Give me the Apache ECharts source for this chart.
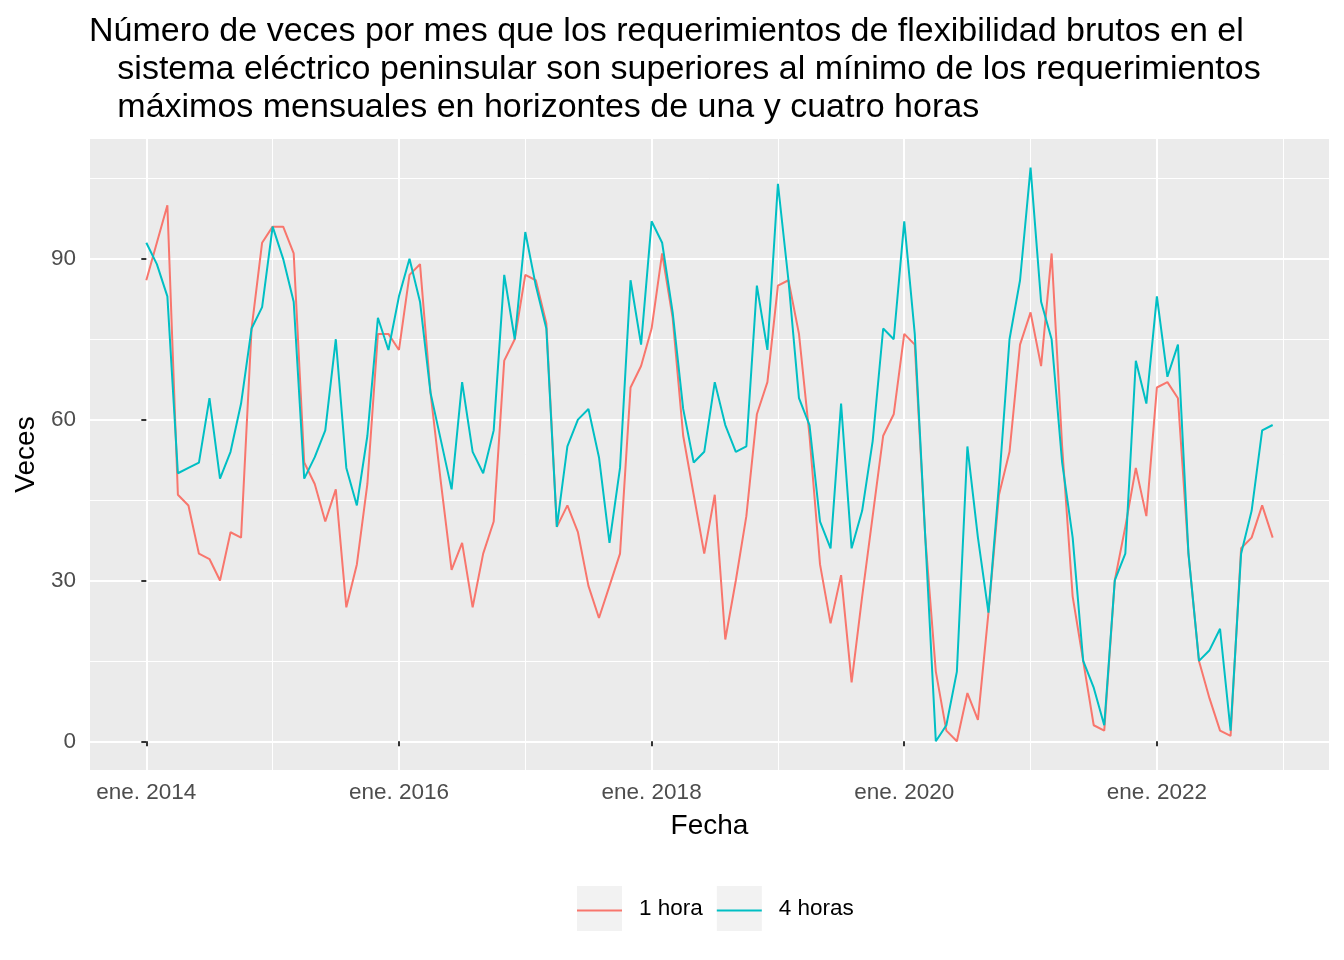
<!DOCTYPE html>
<html>
<head>
<meta charset="utf-8">
<script src="https://cdn.jsdelivr.net/npm/echarts@6/dist/echarts.min.js"></script>
<style>
  html, body { margin: 0; padding: 0; background: #fff; }
  #chart { width: 1344px; height: 960px; }
</style>
</head>
<body>
<div id="chart"></div>
<script>
// monthly, ene. 2014 .. dic. 2022
const startYear = 2014
const tickMonths = [0, 24, 48, 72, 96]
const tickLabels = ['ene. 2014', 'ene. 2016', 'ene. 2018', 'ene. 2020', 'ene. 2022']
const minorMonths = [12, 36, 60, 84, 108]
const yTicks = [0, 30, 60, 90]
const yMinor = [15, 45, 75, 105]

const unaHora = [
    86, 93, 100, 46, 44, 35, 34, 30, 39, 38, 77, 93,
    96, 96, 91, 52, 48, 41, 47, 25, 33, 48, 76, 76,
    73, 87, 89, 65, 48, 32, 37, 25, 35, 41, 71, 75,
    87, 86, 78, 40, 44, 39, 29, 23, 29, 35, 66, 70,
    77, 91, 79, 57, 46, 35, 46, 19, 30, 42, 61, 67,
    85, 86, 76, 57, 33, 22, 31, 11, 27, 42, 57, 61,
    76, 74, 38, 13, 2, 0, 9, 4, 24, 46, 54, 74,
    80, 70, 91, 55, 27, 15, 3, 2, 30, 40, 51, 42,
    66, 67, 64, 35, 15, 8, 2, 1, 36, 38, 44, 38
]
const cuatroHoras = [
    93, 89, 83, 50, 51, 52, 64, 49, 54, 63, 77, 81,
    96, 90, 82, 49, 53, 58, 75, 51, 44, 57, 79, 73,
    83, 90, 82, 65, 56, 47, 67, 54, 50, 58, 87, 75,
    95, 85, 77, 40, 55, 60, 62, 53, 37, 51, 86, 74,
    97, 93, 80, 62, 52, 54, 67, 59, 54, 55, 85, 73,
    104, 86, 64, 59, 41, 36, 63, 36, 43, 56, 77, 75,
    97, 76, 38, 0, 3, 13, 55, 38, 24, 48, 75, 86,
    107, 82, 75, 52, 38, 15, 10, 3, 30, 35, 71, 63,
    83, 68, 74, 35, 15, 17, 21, 2, 35, 43, 58, 59
]

const toPairs = arr => arr.map((v, i) => [i, v])

const white = (width) => ({ color: '#FFFFFF', width: width, type: 'solid' })
const gridLines = []
tickMonths.forEach(m => gridLines.push({ xAxis: m, lineStyle: white(2) }))
minorMonths.forEach(m => gridLines.push({ xAxis: m, lineStyle: white(1) }))
yTicks.forEach(v => gridLines.push({ yAxis: v, lineStyle: white(2) }))
yMinor.forEach(v => gridLines.push({ yAxis: v, lineStyle: white(1) }))

const font = 'Liberation Sans, Arial, sans-serif'
const chart = echarts.init(document.getElementById('chart'), null, { renderer: 'canvas' })

const legendBase = {
    left: 572,
    orient: 'horizontal',
    itemWidth: 45,
    itemGap: 14,
    icon: 'rect',
    selectedMode: false,
    data: ['1 hora', '4 horas'],
    textStyle: { fontFamily: font, fontSize: 22.5, padding: [0, 0, 0, 12] }
}

const option = {
    backgroundColor: '#FFFFFF',
    animation: false,
    title: {
        text: 'Número de veces por mes que los requerimientos de flexibilidad brutos en el\n   sistema eléctrico peninsular son superiores al mínimo de los requerimientos\n   máximos mensuales en horizontes de una y cuatro horas',
        left: 84,
        top: 8,
        textStyle: { fontFamily: font, fontSize: 34, fontWeight: 'normal', color: '#000', lineHeight: 38 }
    },
    legend: [
        Object.assign({}, legendBase, {
            top: 881,
            itemHeight: 45,
            itemStyle: { color: '#F2F2F2', borderWidth: 0 },
            textStyle: Object.assign({}, legendBase.textStyle, { color: '#000' })
        }),
        Object.assign({}, legendBase, {
            top: 894,
            itemWidth: 45,
            itemHeight: 2,
            textStyle: Object.assign({}, legendBase.textStyle, { color: 'rgba(0,0,0,0)' })
        })
    ],
    grid: { left: 90, right: 15, top: 139, bottom: 190, containLabel: false,
        show: true, backgroundColor: '#EBEBEB', borderWidth: 0 },
    xAxis: {
        type: 'value',
        min: -5.35,
        max: 112.35,
        name: 'Fecha',
        nameLocation: 'middle',
        nameGap: 42,
        nameTextStyle: { fontFamily: font, fontSize: 28, color: '#000' },
        axisLine: { show: false },
        axisTick: { show: true, length: 5, customValues: tickMonths, lineStyle: { color: '#333', width: 2 } },
        axisLabel: {
            customValues: tickMonths,
            margin: 11,
            fontFamily: font, fontSize: 22.5, color: '#4D4D4D',
            formatter: v => tickLabels[tickMonths.indexOf(v)] || ''
        },
        splitLine: { show: false }
    },
    yAxis: {
        type: 'value',
        min: -5.35,
        max: 112.35,
        name: 'Veces',
        nameLocation: 'middle',
        nameGap: 45,
        nameRotate: 90,
        nameTextStyle: { fontFamily: font, fontSize: 28, color: '#000' },
        axisLine: { show: false },
        axisTick: { show: true, length: 5, customValues: yTicks, lineStyle: { color: '#333', width: 2 } },
        axisLabel: {
            customValues: yTicks,
            margin: 14,
            fontFamily: font, fontSize: 22.5, color: '#4D4D4D'
        },
        splitLine: { show: false }
    },
    series: [
        {
            name: 'grid',
            type: 'line',
            data: [],
            z: 0,
            silent: true,
            markLine: {
                silent: true,
                symbol: ['none', 'none'],
                label: { show: false },
                z: 0,
                data: gridLines
            }
        },
        {
            name: '1 hora',
            type: 'line',
            data: toPairs(unaHora),
            showSymbol: false,
            symbol: 'none',
            z: 3,
            color: '#F8766D',
            lineStyle: { color: '#F8766D', width: 2 }
        },
        {
            name: '4 horas',
            type: 'line',
            data: toPairs(cuatroHoras),
            showSymbol: false,
            symbol: 'none',
            z: 3,
            color: '#00BFC4',
            lineStyle: { color: '#00BFC4', width: 2 }
        }
    ]
}
chart.setOption(option)
</script>
</body>
</html>
